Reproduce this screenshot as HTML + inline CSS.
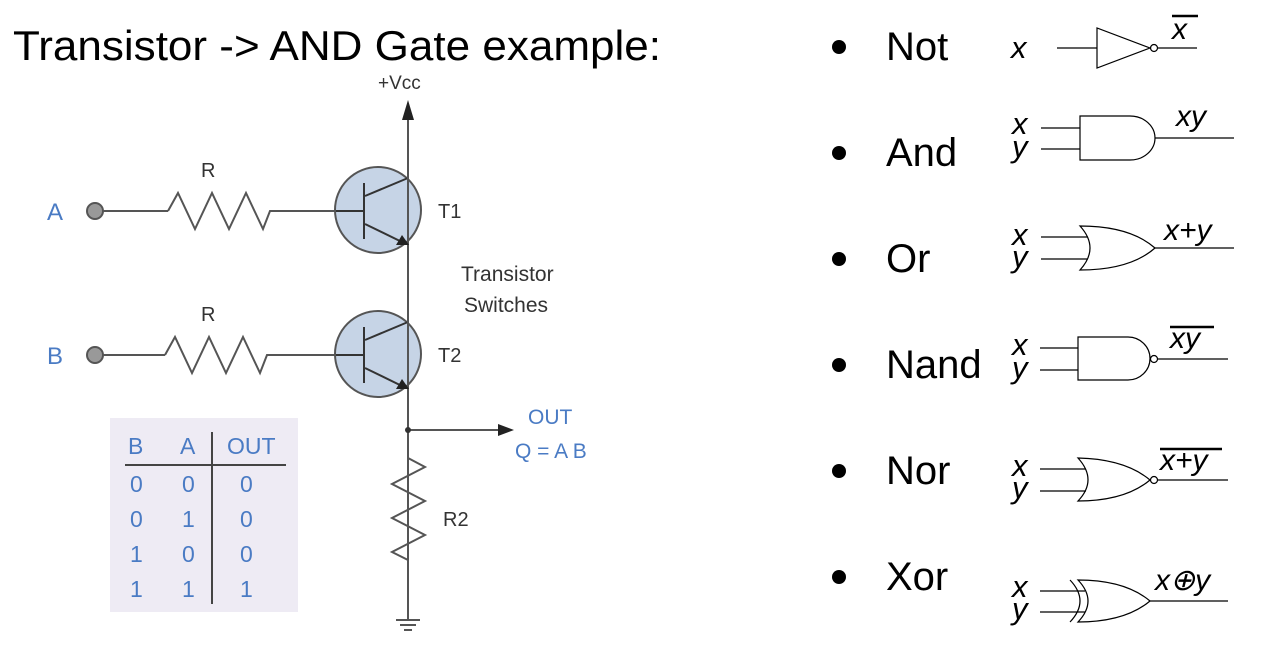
<!DOCTYPE html>
<html><head><meta charset="utf-8"><style>
html,body{margin:0;padding:0;background:#fff;width:1269px;height:650px;overflow:hidden}
svg{display:block}
text{font-family:"Liberation Sans",Arial,sans-serif}
</style></head><body>
<svg width="1269" height="650" viewBox="0 0 1269 650" xmlns="http://www.w3.org/2000/svg">
<text x="13" y="60" font-size="42" textLength="648" lengthAdjust="spacingAndGlyphs" fill="#000">Transistor -&gt; AND Gate example:</text>

<!-- circuit -->
<g stroke="#555" stroke-width="2" fill="none">
<line x1="408" y1="112" x2="408" y2="620"/>
<line x1="103" y1="211" x2="168" y2="211"/>
<polyline points="168,211 178,193 195,229 212,193 229,229 246,193 263,229 270,211 336,211"/>
<line x1="103" y1="355" x2="165" y2="355"/>
<polyline points="165,355 175,337 192,373 209,337 226,373 243,337 260,373 267,355 336,355"/>
<line x1="408" y1="430" x2="500" y2="430"/>
<polyline points="408,458 425,467 392,484 425,501 392,518 425,535 392,552 408,560"/>
<line x1="396" y1="620" x2="420" y2="620"/>
<line x1="400" y1="625" x2="416" y2="625"/>
<line x1="404" y1="630" x2="412" y2="630"/>
</g>
<polygon points="408,100 402,120 414,120" fill="#222"/>
<polygon points="514,430 498,424 498,436" fill="#222"/>
<circle cx="408" cy="430" r="3" fill="#333"/>
<circle cx="95" cy="211" r="8" fill="#999" stroke="#555" stroke-width="2"/>
<circle cx="95" cy="355" r="8" fill="#999" stroke="#555" stroke-width="2"/>

<g stroke="#333" stroke-width="2">
<circle cx="378" cy="210" r="43" fill="#c6d4e6" stroke="#555"/>
<line x1="336" y1="211" x2="364" y2="211"/>
<line x1="364" y1="183" x2="364" y2="239"/>
<line x1="365" y1="196" x2="408" y2="178"/>
<line x1="365" y1="224" x2="404" y2="243"/>
<circle cx="378" cy="354" r="43" fill="#c6d4e6" stroke="#555"/>
<line x1="336" y1="355" x2="364" y2="355"/>
<line x1="364" y1="327" x2="364" y2="383"/>
<line x1="365" y1="340" x2="408" y2="322"/>
<line x1="365" y1="368" x2="404" y2="387"/>
</g>
<line x1="408" y1="170" x2="408" y2="250" stroke="#555" stroke-width="2"/>
<line x1="408" y1="315" x2="408" y2="395" stroke="#555" stroke-width="2"/>
<polygon points="409,245 396,245 402,235" fill="#222"/>
<polygon points="409,389 396,389 402,379" fill="#222"/>

<g fill="#333" font-size="20">
<text x="378" y="89" font-size="19">+Vcc</text>
<text x="201" y="177">R</text>
<text x="201" y="321">R</text>
<text x="438" y="218">T1</text>
<text x="438" y="362">T2</text>
<text x="461" y="281" font-size="21">Transistor</text>
<text x="464" y="312" font-size="21">Switches</text>
<text x="443" y="526">R2</text>
</g>
<g fill="#4a7bc4" font-size="24">
<text x="47" y="220">A</text>
<text x="47" y="364">B</text>
<text x="528" y="424" font-size="21">OUT</text>
<text x="515" y="458" font-size="21">Q = A B</text>
</g>

<rect x="110" y="418" width="188" height="194" fill="#eeebf4"/>
<line x1="125" y1="465" x2="286" y2="465" stroke="#444" stroke-width="2"/>
<line x1="212" y1="432" x2="212" y2="604" stroke="#444" stroke-width="2"/>
<g fill="#4a7bc4" font-size="23">
<text x="128" y="454">B</text><text x="180" y="454">A</text><text x="227" y="454">OUT</text>
<text x="130" y="492">0</text><text x="182" y="492">0</text><text x="240" y="492">0</text>
<text x="130" y="527">0</text><text x="182" y="527">1</text><text x="240" y="527">0</text>
<text x="130" y="562">1</text><text x="182" y="562">0</text><text x="240" y="562">0</text>
<text x="130" y="597">1</text><text x="182" y="597">1</text><text x="240" y="597">1</text>
</g>

<!-- right list -->
<g fill="#000" font-size="40">
<circle cx="839" cy="47" r="7"/><text x="886" y="60">Not</text>
<circle cx="839" cy="153" r="7"/><text x="886" y="166">And</text>
<circle cx="839" cy="259" r="7"/><text x="886" y="272">Or</text>
<circle cx="839" cy="365" r="7"/><text x="886" y="378">Nand</text>
<circle cx="839" cy="471" r="7"/><text x="886" y="484">Nor</text>
<circle cx="839" cy="577" r="7"/><text x="886" y="590">Xor</text>
</g>

<g fill="#000" font-size="31" font-style="italic">
<text x="1011" y="58">x</text>
<text x="1012" y="134">x</text><text x="1012" y="157">y</text>
<text x="1012" y="245">x</text><text x="1012" y="267">y</text>
<text x="1012" y="355">x</text><text x="1012" y="378">y</text>
<text x="1012" y="476">x</text><text x="1012" y="498">y</text>
<text x="1012" y="597">x</text><text x="1012" y="619">y</text>
</g>
<g fill="#000" font-size="30" font-style="italic">
<text x="1172" y="39">x</text>
<text x="1176" y="126">xy</text>
<text x="1164" y="240">x+y</text>
<text x="1170" y="348">xy</text>
<text x="1160" y="470">x+y</text>
<text x="1155" y="590">x⊕y</text>
</g>
<g stroke="#000" stroke-width="2.5">
<line x1="1172" y1="16" x2="1198" y2="16"/>
<line x1="1170" y1="327" x2="1214" y2="327"/>
<line x1="1160" y1="449" x2="1222" y2="449"/>
</g>

<g stroke="#000" stroke-width="1.2" fill="none">
<!-- Not -->
<line x1="1057" y1="48" x2="1097" y2="48"/>
<polygon points="1097,28 1097,68 1150,48"/>
<circle cx="1154" cy="48" r="3.5"/>
<line x1="1158" y1="48" x2="1197" y2="48"/>
<!-- And -->
<line x1="1041" y1="128" x2="1080" y2="128"/>
<line x1="1041" y1="149" x2="1080" y2="149"/>
<path d="M1080,116 H1130 A25,22 0 0 1 1130,160 H1080 Z"/>
<line x1="1155" y1="138" x2="1234" y2="138"/>
<!-- Or -->
<line x1="1041" y1="237" x2="1088" y2="237"/>
<line x1="1041" y1="259" x2="1088" y2="259"/>
<path d="M1080,226 Q1100,248 1080,270 Q1130,270 1155,248 Q1130,226 1080,226 Z"/>
<line x1="1155" y1="248" x2="1234" y2="248"/>
<!-- Nand -->
<line x1="1040" y1="348" x2="1078" y2="348"/>
<line x1="1040" y1="370" x2="1078" y2="370"/>
<path d="M1078,337 H1128 A22,21.5 0 0 1 1128,380 H1078 Z"/>
<circle cx="1154" cy="359" r="3.5"/>
<line x1="1158" y1="359" x2="1228" y2="359"/>
<!-- Nor -->
<line x1="1040" y1="469" x2="1086" y2="469"/>
<line x1="1040" y1="491" x2="1086" y2="491"/>
<path d="M1078,458 Q1098,480 1078,501 Q1125,501 1150,480 Q1125,459 1078,458 Z"/>
<circle cx="1154" cy="480" r="3.5"/>
<line x1="1158" y1="480" x2="1228" y2="480"/>
<!-- Xor -->
<line x1="1040" y1="591" x2="1085" y2="591"/>
<line x1="1040" y1="612" x2="1085" y2="612"/>
<path d="M1070,580 Q1090,601 1070,622"/>
<path d="M1078,580 Q1098,601 1078,622 Q1125,622 1150,601 Q1125,580 1078,580 Z"/>
<line x1="1150" y1="601" x2="1228" y2="601"/>
</g>
</svg>
</body></html>
